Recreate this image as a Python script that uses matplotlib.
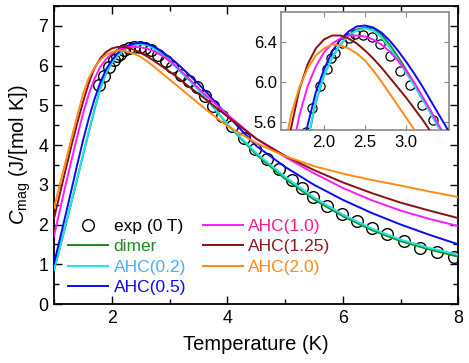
import matplotlib
matplotlib.use("Agg")
import matplotlib.pyplot as plt
from matplotlib.ticker import MultipleLocator, FixedLocator, FormatStrFormatter

plt.rcParams['font.family'] = ['Liberation Sans', 'DejaVu Sans']
plt.rcParams['mathtext.fontset'] = 'custom'
plt.rcParams['mathtext.rm'] = 'Liberation Sans'
plt.rcParams['mathtext.it'] = 'Liberation Sans:italic'

# ---- data ----
T = [1.0, 1.1, 1.2, 1.3, 1.4, 1.5, 1.6, 1.7, 1.8, 1.9, 2.0, 2.1, 2.2, 2.3, 2.4, 2.5,
     2.6, 2.7, 2.8, 2.9, 3.0, 3.1, 3.2, 3.3, 3.4, 3.5, 3.6, 3.8, 4.0, 4.5, 5.0, 5.5,
     6.0, 6.5, 7.0, 7.5, 8.0]

dimer = [0.84, 1.40, 1.97, 2.55, 3.14, 3.73, 4.32, 4.89, 5.41, 5.80, 6.07, 6.25, 6.38,
         6.47, 6.53, 6.55, 6.54, 6.48, 6.38, 6.26, 6.13, 5.99, 5.85, 5.71, 5.56, 5.40,
         5.23, 4.88, 4.52, 3.76, 3.15, 2.63, 2.21, 1.86, 1.58, 1.37, 1.19]
ahc_02 = [0.86, 1.42, 1.99, 2.56, 3.15, 3.74, 4.33, 4.90, 5.42, 5.81, 6.07, 6.25, 6.38,
          6.47, 6.52, 6.54, 6.52, 6.45, 6.35, 6.23, 6.10, 5.97, 5.83, 5.69, 5.54, 5.38,
          5.22, 4.88, 4.53, 3.80, 3.20, 2.68, 2.25, 1.90, 1.62, 1.41, 1.24]
ahc_05 = [1.02, 1.62, 2.24, 2.86, 3.49, 4.10, 4.66, 5.15, 5.57, 5.90, 6.13, 6.31, 6.43,
          6.51, 6.56, 6.57, 6.55, 6.50, 6.42, 6.32, 6.21, 6.09, 5.96, 5.82, 5.68, 5.54,
          5.39, 5.07, 4.75, 3.98, 3.45, 3.00, 2.62, 2.29, 2.00, 1.74, 1.50]
ahc_10 = [1.70, 2.35, 2.99, 3.60, 4.20, 4.78, 5.27, 5.67, 5.96, 6.16, 6.30, 6.39, 6.44,
          6.47, 6.47, 6.46, 6.43, 6.38, 6.31, 6.22, 6.12, 6.00, 5.86, 5.72, 5.57, 5.43,
          5.29, 5.03, 4.77, 4.16, 3.70, 3.29, 2.92, 2.61, 2.35, 2.14, 1.96]
ahc_125 = [2.15, 2.76, 3.37, 3.97, 4.54, 5.07, 5.55, 5.93, 6.18, 6.34, 6.43, 6.47, 6.47,
           6.44, 6.39, 6.32, 6.24, 6.15, 6.05, 5.95, 5.85, 5.74, 5.63, 5.51, 5.40, 5.29,
           5.18, 4.95, 4.72, 4.16, 3.73, 3.37, 3.06, 2.79, 2.55, 2.35, 2.16]
ahc_20 = [2.41, 3.00, 3.58, 4.15, 4.72, 5.27, 5.68, 5.95, 6.14, 6.27, 6.34, 6.38, 6.37,
          6.34, 6.29, 6.22, 6.12, 6.01, 5.89, 5.77, 5.65, 5.53, 5.41, 5.29, 5.17, 5.05,
          4.93, 4.70, 4.48, 4.05, 3.72, 3.47, 3.28, 3.12, 2.98, 2.83, 2.69]

T_exp = [1.78, 1.86, 1.95, 2.04, 2.09, 2.14, 2.22, 2.30, 2.38, 2.48, 2.58, 2.68, 2.80,
         2.93, 3.05, 3.19, 3.33, 3.47, 3.61, 3.76, 3.91, 4.08, 4.28, 4.48, 4.69, 4.89,
         5.12, 5.29, 5.49, 5.72, 5.98, 6.24, 6.50, 6.76, 7.05, 7.34, 7.63, 7.92]
C_exp = [5.50, 5.74, 5.96, 6.13, 6.24, 6.29, 6.39, 6.44, 6.48, 6.47, 6.45, 6.38, 6.26,
         6.11, 5.97, 5.77, 5.62, 5.45, 5.24, 4.99, 4.74, 4.47, 4.17, 3.90, 3.64, 3.40,
         3.13, 2.92, 2.70, 2.46, 2.26, 2.10, 1.92, 1.75, 1.58, 1.42, 1.32, 1.19]

labels = ['dimer', 'AHC(0.2)', 'AHC(0.5)', 'AHC(1.0)', 'AHC(1.25)', 'AHC(2.0)']
series = [dimer, ahc_02, ahc_05, ahc_10, ahc_125, ahc_20]
line_colors = ['#1f8a1f', '#19e6e6', '#0a0aff', '#ff1aff', '#8b1010', '#ff8a14']
text_colors = ['#1f8a1f', '#4aaefc', '#0a0aff', '#ff1a8c', '#8b1a1a', '#ff8a14']

inset_xticks = [2.0, 2.5, 3.0]
inset_yticks = [5.6, 6.0, 6.4]

fig = plt.figure(figsize=(4.69, 3.63), dpi=100)
ax = fig.add_axes([0.1151, 0.1625, 0.8625, 0.821])

handles = []
h0, = ax.plot(T_exp, C_exp, 'o', mfc='none', mec='black', ms=8.4, mew=1.0, zorder=2,
              label='exp (0 T)')
handles.append(h0)
for y, lab, c in zip(series, labels, line_colors):
    h, = ax.plot(T, y, '-', color=c, lw=1.4, label=lab, zorder=3)
    handles.append(h)

ax.set_xlim(1, 8)
ax.set_ylim(0, 7.5)
ax.xaxis.set_major_locator(MultipleLocator(2))
ax.xaxis.set_minor_locator(MultipleLocator(1))
ax.yaxis.set_major_locator(MultipleLocator(1))
ax.yaxis.set_minor_locator(MultipleLocator(0.5))
ax.tick_params(which='both', direction='in', top=True, right=True, width=1.0)
ax.tick_params(which='major', length=6, labelsize=12.8, pad=4)
ax.tick_params(which='minor', length=3.5)
for s in ax.spines.values():
    s.set_linewidth(1.3)
ax.set_xlabel('Temperature (K)', fontsize=14.5, labelpad=6)
ax.set_ylabel(r'$C_{\mathrm{mag}}$ (J/[mol K])', fontsize=14.5, labelpad=4)

leg = ax.legend(handles=handles, ncol=2, frameon=False, fontsize=12.5,
                loc='lower left', bbox_to_anchor=(0.01, -0.005),
                handlelength=2.3, handletextpad=0.3, columnspacing=0.95,
                labelspacing=0.3, numpoints=1, borderaxespad=0.2)
for txt, c in zip(leg.get_texts(), ['black'] + text_colors):
    txt.set_color(c)

# ---- inset ----
axin = fig.add_axes([0.5991, 0.6405, 0.3593, 0.3251])
axin.plot(T_exp, C_exp, 'o', mfc='none', mec='black', ms=6.6, mew=0.9, zorder=2)
for y, c in zip(series, line_colors):
    axin.plot(T, y, '-', color=c, lw=1.4, zorder=3)
axin.set_xlim(1.476, 3.53)
axin.set_ylim(5.52, 6.7)
axin.xaxis.set_major_locator(FixedLocator(inset_xticks))
axin.yaxis.set_major_locator(FixedLocator(inset_yticks))
axin.tick_params(which='both', direction='in', top=True, right=True, color='#888888')
axin.tick_params(which='major', length=3.5, labelsize=12, pad=3)
axin.xaxis.set_major_formatter(FormatStrFormatter('%.1f'))
axin.yaxis.set_major_formatter(FormatStrFormatter('%.1f'))
for s in axin.spines.values():
    s.set_color('#8a8a8a')
    s.set_linewidth(1.2)

fig.savefig('out.png', dpi=100)
